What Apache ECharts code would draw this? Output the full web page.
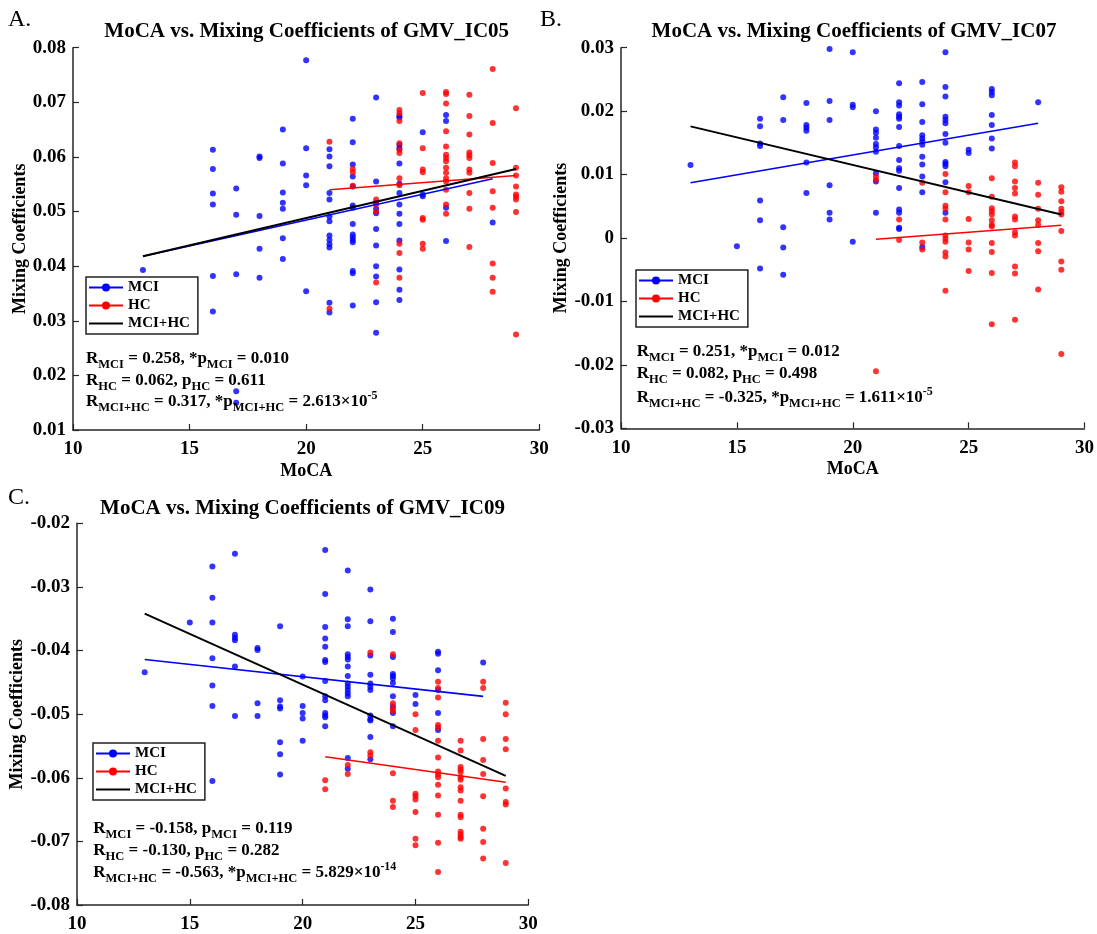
<!DOCTYPE html>
<html>
<head>
<meta charset="utf-8">
<script src="https://cdn.jsdelivr.net/npm/echarts@6/dist/echarts.min.js"></script>
<style>
  html, body { margin: 0; padding: 0; background: #fff; }
  #chart { width: 1097px; height: 934px; }
</style>
</head>
<body>
<div id="chart"></div>
<script>
// each row: [MoCA, coef, coef, ...]
const mciA = [
  [13, 0.0393],
  [16, 0.0613, 0.0578, 0.0533, 0.0513, 0.0382, 0.0317],
  [17, 0.0542, 0.0494, 0.0385, 0.0171, 0.0150],
  [18, 0.0601, 0.0598, 0.0492, 0.0432, 0.0379],
  [19, 0.0650, 0.0588, 0.0535, 0.0516, 0.0505, 0.0451, 0.0413],
  [20, 0.0777, 0.0616, 0.0566, 0.0548, 0.0354],
  [21, 0.0614, 0.0601, 0.0583, 0.0534, 0.0522, 0.0491, 0.0482, 0.0456, 0.0448, 0.0440, 0.0434, 0.0333, 0.0315],
  [22, 0.0670, 0.0627, 0.0586, 0.0564, 0.0546, 0.0511, 0.0507, 0.0477, 0.0458, 0.0453, 0.0448, 0.0444, 0.0391, 0.0387, 0.0328],
  [23, 0.0709, 0.0555, 0.0516, 0.0505, 0.0497, 0.0468, 0.0438, 0.0400, 0.0381, 0.0334, 0.0278],
  [24, 0.0675, 0.0672, 0.0622, 0.0616, 0.0588, 0.0551, 0.0534, 0.0513, 0.0496, 0.0477, 0.0447, 0.0394, 0.0357, 0.0338],
  [25, 0.0645, 0.0531, 0.0528],
  [26, 0.0677, 0.0666, 0.0507, 0.0446],
  [28, 0.0480]
];
const hcA = [
  [21, 0.0628, 0.0322],
  [22, 0.0578, 0.0572, 0.0547],
  [23, 0.0522, 0.0513, 0.0500, 0.0370],
  [24, 0.0686, 0.0680, 0.0666, 0.0625, 0.0613, 0.0607, 0.0561, 0.0548, 0.0441, 0.0424, 0.0379],
  [25, 0.0717, 0.0616, 0.0577, 0.0572, 0.0488, 0.0485, 0.0441, 0.0432],
  [26, 0.0719, 0.0715, 0.0698, 0.0647, 0.0619, 0.0604, 0.0598, 0.0592, 0.0580, 0.0571, 0.0561, 0.0555, 0.0540, 0.0513, 0.0496],
  [27, 0.0714, 0.0675, 0.0641, 0.0608, 0.0603, 0.0598, 0.0577, 0.0571, 0.0534, 0.0505, 0.0435],
  [28, 0.0761, 0.0662, 0.0589, 0.0537, 0.0507, 0.0405, 0.0379, 0.0353],
  [29, 0.0689, 0.0580, 0.0566, 0.0546, 0.0531, 0.0527, 0.0522, 0.0499, 0.0275]
];
const mciB = [
  [13, 0.0115],
  [15, -0.0013],
  [16, 0.0188, 0.0176, 0.0149, 0.0145, 0.0059, 0.0028, -0.0048],
  [17, 0.0222, 0.0186, 0.0017, -0.0015, -0.0058],
  [18, 0.0213, 0.0178, 0.0174, 0.0169, 0.0119, 0.0071],
  [19, 0.0298, 0.0216, 0.0186, 0.0083, 0.0040, 0.0029],
  [20, 0.0293, 0.0210, 0.0206, -0.0006],
  [21, 0.0200, 0.0171, 0.0166, 0.0158, 0.0148, 0.0143, 0.0136, 0.0102, 0.0089, 0.0040],
  [22, 0.0244, 0.0214, 0.0209, 0.0195, 0.0191, 0.0188, 0.0175, 0.0145, 0.0123, 0.0110, 0.0106, 0.0079, 0.0045, 0.0040, 0.0016, 0.0014],
  [23, 0.0246, 0.0211, 0.0183, 0.0162, 0.0157, 0.0152, 0.0147, 0.0128, 0.0116, 0.0097, 0.0072, -0.0014],
  [24, 0.0293, 0.0238, 0.0223, 0.0191, 0.0186, 0.0181, 0.0164, 0.0150, 0.0120, 0.0117, 0.0113, 0.0088, 0.0040],
  [25, 0.0139, 0.0134],
  [26, 0.0235, 0.0230, 0.0225, 0.0194, 0.0178, 0.0157, 0.0141],
  [28, 0.0214]
];
const hcB = [
  [21, 0.0097, 0.0092, -0.0210],
  [22, 0.0029, -0.0003],
  [23, 0.0087, -0.0007, -0.0018],
  [24, 0.0101, 0.0072, 0.0051, 0.0046, 0.0029, 0.0004, -0.0001, -0.0006, -0.0023, -0.0029, -0.0083],
  [25, 0.0082, 0.0072, 0.0030, -0.0007, -0.0018, -0.0052],
  [26, 0.0094, 0.0065, 0.0047, 0.0042, 0.0037, 0.0028, 0.0021, 0.0018, -0.0008, -0.0022, -0.0055, -0.0136],
  [27, 0.0119, 0.0113, 0.0089, 0.0079, 0.0070, 0.0034, 0.0029, 0.0009, 0.0004, -0.0045, -0.0056, -0.0129],
  [28, 0.0087, 0.0068, 0.0046, 0.0028, 0.0021, -0.0008, -0.0021, -0.0081],
  [29, 0.0080, 0.0073, 0.0058, 0.0046, 0.0041, 0.0037, 0.0011, -0.0037, -0.0050, -0.0183]
];
const mciC = [
  [13, -0.0434],
  [15, -0.0356],
  [16, -0.0268, -0.0317, -0.0356, -0.0412, -0.0455, -0.0487, -0.0605],
  [17, -0.0248, -0.0375, -0.0380, -0.0384, -0.0425, -0.0503],
  [18, -0.0396, -0.0399, -0.0483, -0.0503],
  [19, -0.0362, -0.0478, -0.0488, -0.0491, -0.0544, -0.0563, -0.0595],
  [20, -0.0441, -0.0487, -0.0498, -0.0507, -0.0542],
  [21, -0.0242, -0.0311, -0.0363, -0.0381, -0.0394, -0.0415, -0.0418, -0.0448, -0.0472, -0.0478, -0.0498, -0.0502, -0.0505, -0.0519],
  [22, -0.0274, -0.0351, -0.0362, -0.0406, -0.0410, -0.0414, -0.0425, -0.0440, -0.0452, -0.0457, -0.0462, -0.0467, -0.0472, -0.0569, -0.0586],
  [23, -0.0304, -0.0354, -0.0408, -0.0438, -0.0452, -0.0457, -0.0462, -0.0502, -0.0508, -0.0510, -0.0536, -0.0571],
  [24, -0.0350, -0.0371, -0.0410, -0.0437, -0.0440, -0.0444, -0.0451, -0.0472, -0.0488, -0.0498, -0.0519],
  [25, -0.0470, -0.0484],
  [26, -0.0402, -0.0405, -0.0431, -0.0462, -0.0498, -0.0525],
  [28, -0.0419]
];
const hcC = [
  [21, -0.0604, -0.0618],
  [22, -0.0580, -0.0594],
  [23, -0.0403, -0.0560, -0.0565],
  [24, -0.0406, -0.0483, -0.0491, -0.0495, -0.0593, -0.0636, -0.0646],
  [25, -0.0500, -0.0525, -0.0625, -0.0629, -0.0634, -0.0654, -0.0696, -0.0706],
  [26, -0.0449, -0.0459, -0.0474, -0.0517, -0.0521, -0.0542, -0.0568, -0.0590, -0.0595, -0.0599, -0.0611, -0.0628, -0.0658, -0.0702, -0.0748],
  [27, -0.0542, -0.0557, -0.0583, -0.0587, -0.0591, -0.0599, -0.0603, -0.0615, -0.0620, -0.0636, -0.0658, -0.0662, -0.0685, -0.0689, -0.0693, -0.0696],
  [28, -0.0449, -0.0459, -0.0539, -0.0572, -0.0594, -0.0629, -0.0680, -0.0701, -0.0727],
  [29, -0.0482, -0.0500, -0.0539, -0.0555, -0.0617, -0.0638, -0.0642, -0.0734]
];

// regression line end points [MoCA, coef]
const fitMciA = [[13, 0.0418], [28, 0.0560]];
const fitHcA = [[21, 0.0540], [29, 0.0566]];
const fitAllA = [[13, 0.0418], [29, 0.0578]];
const fitMciB = [[13, 0.0087], [28, 0.0181]];
const fitHcB = [[21, -0.0002], [29, 0.0020]];
const fitAllB = [[13, 0.0176], [29, 0.0037]];
const fitMciC = [[13, -0.0414], [28, -0.0472]];
const fitHcC = [[21, -0.0567], [29, -0.0607]];
const fitAllC = [[13, -0.0342], [29, -0.0597]];

const titles = ['MoCA vs. Mixing Coefficients of GMV_IC05', 'MoCA vs. Mixing Coefficients of GMV_IC07', 'MoCA vs. Mixing Coefficients of GMV_IC09'];
const panelTags = ['A.', 'B.', 'C.'];
const yRanges = [[0.01, 0.08], [-0.03, 0.03], [-0.08, -0.02]];
const statsA = [
  '{n|R}{s|MCI}{n| = 0.258, *p}{s|MCI}{n| = 0.010}',
  '{n|R}{s|HC}{n| = 0.062, p}{s|HC}{n| = 0.611}',
  '{n|R}{s|MCI+HC}{n| = 0.317, *p}{s|MCI+HC}{n| = 2.613×10}{u|-5}'
];
const statsB = [
  '{n|R}{s|MCI}{n| = 0.251, *p}{s|MCI}{n| = 0.012}',
  '{n|R}{s|HC}{n| = 0.082, p}{s|HC}{n| = 0.498}',
  '{n|R}{s|MCI+HC}{n| = -0.325, *p}{s|MCI+HC}{n| = 1.611×10}{u|-5}'
];
const statsC = [
  '{n|R}{s|MCI}{n| = -0.158, p}{s|MCI}{n| = 0.119}',
  '{n|R}{s|HC}{n| = -0.130, p}{s|HC}{n| = 0.282}',
  '{n|R}{s|MCI+HC}{n| = -0.563, *p}{s|MCI+HC}{n| = 5.829×10}{u|-14}'
];

function expand(rows) {
  const out = [];
  rows.forEach(r => {
    for (let i = 1; i < r.length; i++) out.push([r[0], r[i]]);
  });
  return out;
}

const FONT = '"Liberation Serif", "Times New Roman", serif';
const BLUE = '#0000ff';
const RED = '#ff0000';
const AXIS = '#262626';

const grids = [
  { left: 73, top: 47.7, width: 466.3, height: 382.3 },
  { left: 621, top: 47.7, width: 466.3, height: 380.6 },
  { left: 77, top: 523.3, width: 451.3, height: 383.4 }
];
const yNameGap = [42, 41, 48];
const legendPos = [[86, 277], [636, 270], [93, 743]];
const statsPos = [[86, [359, 381, 402]], [636.7, [352, 374, 398]], [93.3, [829, 851, 873]]];
const titlePos = [[306.7, 32], [854, 32], [302.5, 509]];
const tagPos = [[8, 8], [540, 8], [8, 486]];

const chart = echarts.init(document.getElementById('chart'));

const xAxes = [], yAxes = [], series = [], legends = [], graphics = [];
const pts = [[mciA, hcA], [mciB, hcB], [mciC, hcC]];
const fits = [[fitMciA, fitHcA, fitAllA], [fitMciB, fitHcB, fitAllB], [fitMciC, fitHcC, fitAllC]];
const stats = [statsA, statsB, statsC];

for (let i = 0; i < 3; i++) {
  xAxes.push({
    type: 'value', gridIndex: i, min: 10, max: 30, interval: 5,
    name: i < 2 ? 'MoCA' : '', nameLocation: 'middle', nameGap: 32,
    nameTextStyle: { fontFamily: FONT, fontWeight: 'bold', fontSize: 18, color: '#000' },
    axisLine: { show: true, onZero: false, lineStyle: { color: AXIS, width: 1.5 } },
    axisTick: { show: true, inside: true, length: 6, lineStyle: { color: AXIS, width: 1.2 } },
    axisLabel: { fontFamily: FONT, fontWeight: 'bold', fontSize: 19, color: '#000', margin: 10 },
    splitLine: { show: false }
  });
  yAxes.push({
    type: 'value', gridIndex: i, min: yRanges[i][0], max: yRanges[i][1], interval: 0.01,
    name: 'Mixing Coefficients', nameLocation: 'middle', nameGap: yNameGap[i],
    nameTextStyle: { fontFamily: FONT, fontWeight: 'bold', fontSize: 18, color: '#000' },
    axisLine: { show: true, onZero: false, lineStyle: { color: AXIS, width: 1.5 } },
    axisTick: { show: true, inside: true, length: 6, lineStyle: { color: AXIS, width: 1.2 } },
    axisLabel: {
      fontFamily: FONT, fontWeight: 'bold', fontSize: 19, color: '#000', margin: 7,
      formatter: v => Math.abs(v) < 1e-10 ? '0' : v.toFixed(2)
    },
    splitLine: { show: false }
  });

  series.push(
    {
      name: 'MCI points', type: 'scatter', xAxisIndex: i, yAxisIndex: i,
      data: expand(pts[i][0]), symbolSize: 6, itemStyle: { color: BLUE }, z: 2
    },
    {
      name: 'HC points', type: 'scatter', xAxisIndex: i, yAxisIndex: i,
      data: expand(pts[i][1]), symbolSize: 6, itemStyle: { color: RED }, z: 2
    },
    {
      name: 'MCI', type: 'line', xAxisIndex: i, yAxisIndex: i, data: fits[i][0],
      symbol: 'circle', symbolSize: 8, showSymbol: false,
      lineStyle: { color: BLUE, width: 1.6 }, itemStyle: { color: BLUE }, z: 3
    },
    {
      name: 'HC', type: 'line', xAxisIndex: i, yAxisIndex: i, data: fits[i][1],
      symbol: 'circle', symbolSize: 8, showSymbol: false,
      lineStyle: { color: RED, width: 1.6 }, itemStyle: { color: RED }, z: 3
    },
    {
      name: 'MCI+HC', type: 'line', xAxisIndex: i, yAxisIndex: i, data: fits[i][2],
      symbol: 'none', lineStyle: { color: '#000', width: 2 }, itemStyle: { color: '#000' }, z: 4
    }
  );

  legends.push({
    data: ['MCI', 'HC', { name: 'MCI+HC', itemStyle: { opacity: 0 } }],
    orient: 'vertical', selectedMode: false,
    left: legendPos[i][0], top: legendPos[i][1],
    backgroundColor: '#fff', borderColor: '#222', borderWidth: 1.5,
    padding: [3, 8, 3, 2], itemGap: 3, itemWidth: 34, itemHeight: 10,
    textStyle: { fontFamily: FONT, fontWeight: 'bold', fontSize: 15, color: '#000' }
  });

  graphics.push({
    type: 'text', x: titlePos[i][0], y: titlePos[i][1],
    style: { text: titles[i], fontFamily: FONT, fontWeight: 'bold', fontSize: 21, fill: '#000', align: 'center', verticalAlign: 'middle' }
  });
  graphics.push({
    type: 'text', x: tagPos[i][0], y: tagPos[i][1],
    style: { text: panelTags[i], fontFamily: FONT, fontSize: 24, fill: '#000', align: 'left', verticalAlign: 'top' }
  });
  stats[i].forEach((line, k) => {
    graphics.push({
      type: 'text', x: statsPos[i][0], y: statsPos[i][1][k], z: 10,
      style: {
        text: line, align: 'left', verticalAlign: 'middle',
        rich: {
          n: { fontFamily: FONT, fontWeight: 'bold', fontSize: 17, lineHeight: 24, fill: '#000', verticalAlign: 'middle' },
          s: { fontFamily: FONT, fontWeight: 'bold', fontSize: 12.5, lineHeight: 12, fill: '#000', verticalAlign: 'bottom' },
          u: { fontFamily: FONT, fontWeight: 'bold', fontSize: 12, lineHeight: 12, fill: '#000', verticalAlign: 'top' }
        }
      }
    });
  });
}

chart.setOption({
  animation: false,
  backgroundColor: '#fff',
  grid: grids.map(g => Object.assign({ containLabel: false }, g)),
  xAxis: xAxes,
  yAxis: yAxes,
  legend: legends,
  series: series,
  graphic: graphics
});
</script>
</body>
</html>
